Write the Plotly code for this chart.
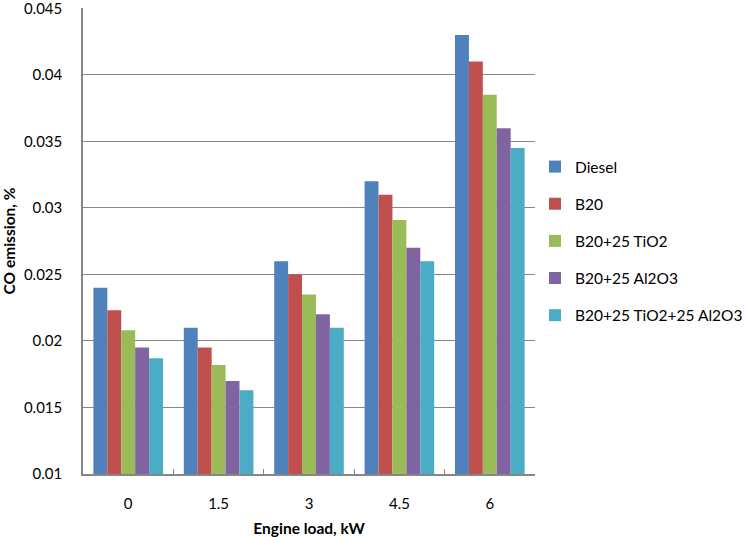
import plotly.graph_objects as go

loads = ["0", "1.5", "3", "4.5", "6"]
series_names = ["Diesel", "B20", "B20+25 TiO2", "B20+25 Al2O3", "B20+25 TiO2+25 Al2O3"]
diesel = [0.0240, 0.0210, 0.0260, 0.0320, 0.0430]
b20 = [0.0223, 0.0195, 0.0250, 0.0310, 0.0410]
b20_tio2 = [0.0208, 0.0182, 0.0235, 0.0291, 0.0385]
b20_al2o3 = [0.0195, 0.0170, 0.0220, 0.0270, 0.0360]
b20_tio2_al2o3 = [0.0187, 0.0163, 0.0210, 0.0260, 0.0345]
y_ticks = [0.01, 0.015, 0.02, 0.025, 0.03, 0.035, 0.04, 0.045]
y_tick_text = ["0.01", "0.015", "0.02", "0.025", "0.03", "0.035", "0.04", "0.045"]

colors = ["#4F81BD", "#C0504D", "#9BBB59", "#8064A2", "#4BACC6"]
values = [diesel, b20, b20_tio2, b20_al2o3, b20_tio2_al2o3]

FONT = "Lato"
fig = go.Figure()
for i, (name, vals) in enumerate(zip(series_names, values)):
    fig.add_trace(go.Bar(
        x=loads, y=vals, name=name, legendgroup=name,
        marker=dict(color=colors[i], line=dict(width=0)),
        base=0,
    ))

fig.update_layout(
    width=750, height=537,
    margin=dict(l=83, r=215, t=8, b=63, autoexpand=False),
    paper_bgcolor="white", plot_bgcolor="white",
    barmode="group", bargap=0.23, bargroupgap=0,
    font=dict(family=FONT, size=15, color="#000000"),
    legend=dict(x=1.0, xanchor="left", y=0.5, yanchor="middle",
                font=dict(family=FONT, size=15.5, color="#000000"),
                tracegroupgap=14, itemwidth=30),
    xaxis=dict(type="category", showline=True, linecolor="#868686", linewidth=1.5,
               ticks="inside", tickson="boundaries", ticklen=5, tickcolor="#868686",
               tickfont=dict(family=FONT, size=15), automargin=False,
               ticklabelstandoff=15,
               title=dict(text="<b>Engine load, kW</b>", font=dict(family=FONT, size=15.5), standoff=12)),
    yaxis=dict(range=[0.01, 0.04503], tickvals=y_ticks, ticktext=y_tick_text,
               showgrid=True, gridcolor="#868686", gridwidth=1.2,
               showline=True, linecolor="#868686", linewidth=1.5,
               ticks="outside", ticklen=16, tickcolor="rgba(0,0,0,0)",
               tickfont=dict(family=FONT, size=15), zeroline=False,
               ticklabeloverflow="allow", automargin=False,
               title=dict(text="<b>CO emission, %</b>", font=dict(family=FONT, size=15.5), standoff=6)),
)

fig.write_html("out.html", config={"displayModeBar": False},
               post_script="document.body.style.margin='0';document.body.style.padding='0';")
